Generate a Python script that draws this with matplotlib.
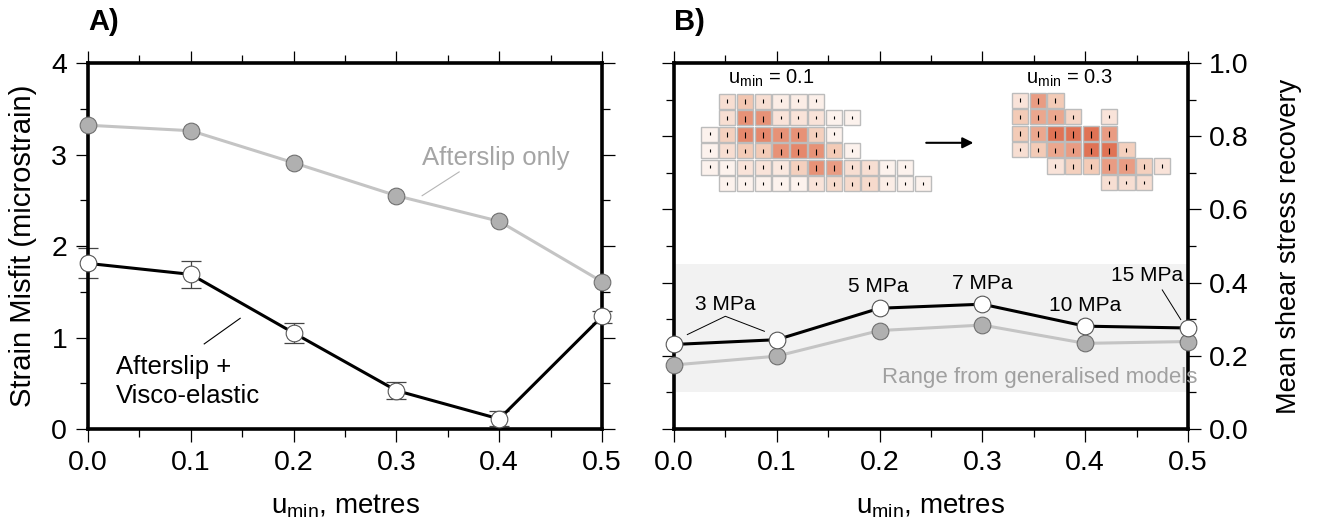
import numpy as np
import matplotlib.pyplot as plt
from matplotlib.colors import LinearSegmentedColormap
from matplotlib.patches import Rectangle
from matplotlib.ticker import MultipleLocator, FormatStrFormatter

plt.rcParams['font.family'] = ['Liberation Sans', 'DejaVu Sans']
plt.rcParams['mathtext.fontset'] = 'custom'
plt.rcParams['mathtext.rm'] = 'Liberation Sans'
plt.rcParams['mathtext.it'] = 'Liberation Sans:italic'

# data
u_min = [0.0, 0.1, 0.2, 0.3, 0.4, 0.5]
misfit_afterslip = [3.32, 3.26, 2.91, 2.55, 2.27, 1.61]
misfit_visco = [1.81, 1.69, 1.05, 0.42, 0.11, 1.23]
misfit_visco_lo = [1.65, 1.54, 0.94, 0.33, 0.03, 1.16]
misfit_visco_hi = [1.98, 1.84, 1.16, 0.51, 0.20, 1.29]

stress_visco = [0.231, 0.244, 0.330, 0.341, 0.281, 0.276]
stress_afterslip = [0.175, 0.199, 0.269, 0.284, 0.234, 0.239]
range_lo, range_hi = 0.10, 0.45

# slip patches (relative intensity, nan = no patch), rows top to bottom
n = np.nan
slip_01 = [
    [n, .25, .5, .25, .1, .1, .08, n, n, n, n, n, n],
    [n, .25, .75, .75, .2, .2, .2, .05, .05, n, n, n, n],
    [.05, .4, .8, .8, .75, .75, .4, .05, n, n, n, n, n],
    [.05, .25, .45, .45, .75, .8, .75, .45, .05, n, n, n, n],
    [.05, .05, .2, .2, .15, .4, .75, .7, .25, .25, .05, .05, n],
    [n, .05, .05, .05, .05, .05, .2, .3, .3, .3, .1, .05, .05],
]
slip_03 = [
    [.2, .7, .45, n, n, n, n, n, n],
    [.45, .65, .65, .35, n, .2, n, n, n],
    [.45, .65, .9, .9, .9, .7, n, n, n],
    [.25, .45, .65, .7, .9, .9, .4, n, n],
    [n, n, .2, .4, .45, .7, .7, .4, .2],
    [n, n, n, n, n, .25, .25, .25, n],
]

fig = plt.figure(figsize=(13.22, 5.26), dpi=100)
ax1 = fig.add_axes([0.0666, 0.1844, 0.3888, 0.6958])
ax2 = fig.add_axes([0.5098, 0.1844, 0.3888, 0.6958])

for ax in (ax1, ax2):
    ax.set_xlim(0, 0.5)
    ax.xaxis.set_major_locator(MultipleLocator(0.1))
    ax.xaxis.set_minor_locator(MultipleLocator(0.05))
    ax.xaxis.set_major_formatter(FormatStrFormatter('%.1f'))
    ax.tick_params(which='both', direction='out', top=True, right=True,
                   width=0.9, labelsize=20.5, pad=6)
    ax.tick_params(which='major', length=9)
    ax.tick_params(which='minor', length=5.5)
    for s in ax.spines.values():
        s.set_linewidth(2.6)
    ax.set_xlabel('u$_{\\mathrm{min}}$, metres', fontsize=20, labelpad=12)

# panel A
ax1.set_ylim(0, 4)
ax1.yaxis.set_major_locator(MultipleLocator(1))
ax1.yaxis.set_minor_locator(MultipleLocator(0.5))
ax1.set_ylabel('Strain Misfit (microstrain)', fontsize=21, labelpad=10)

err = [np.array(misfit_visco) - np.array(misfit_visco_lo),
       np.array(misfit_visco_hi) - np.array(misfit_visco)]
ax1.errorbar(u_min, misfit_visco, yerr=err, fmt='none', ecolor='#444444',
             elinewidth=0.9, capsize=7, capthick=0.9, zorder=2, clip_on=False)
ax1.plot(u_min, misfit_afterslip, color='#c4c4c4', lw=2.2, marker='o', ms=12,
         mfc='#b0b0b0', mec='#707070', mew=0.8, clip_on=False, zorder=3)
ax1.plot(u_min, misfit_visco, color='black', lw=2.2, marker='o', ms=12,
         mfc='white', mec='#555555', mew=0.8, clip_on=False, zorder=4)

ax1.text(0.397, 2.96, 'Afterslip only', color='#a5a5a5', ha='center',
         va='center', fontsize=18.5)
ax1.plot([0.361, 0.325], [2.81, 2.55], color='#b5b5b5', lw=0.8)
ax1.text(0.027, 0.52, 'Afterslip +\nVisco-elastic', ha='left', va='center',
         fontsize=18.5, linespacing=1.25)
ax1.plot([0.148, 0.113], [1.21, 0.93], color='black', lw=0.8)

# panel B
ax2.set_ylim(0, 1)
ax2.yaxis.set_major_locator(MultipleLocator(0.2))
ax2.yaxis.set_minor_locator(MultipleLocator(0.1))
ax2.yaxis.set_major_formatter(FormatStrFormatter('%.1f'))
ax2.tick_params(labelleft=False, labelright=True)
ax2.yaxis.set_label_position('right')
ax2.set_ylabel('Mean shear stress recovery', fontsize=19.5, labelpad=20)

ax2.fill_between([0, 0.5], range_lo, range_hi, color='#f2f2f2', lw=0, zorder=0)
ax2.text(0.356, 0.14, 'Range from generalised models', color='#a0a0a0',
         ha='center', va='center', fontsize=16)
ax2.plot(u_min, stress_afterslip, color='#c4c4c4', lw=2.2, marker='o', ms=12,
         mfc='#b0b0b0', mec='#707070', mew=0.8, clip_on=False, zorder=3)
ax2.plot(u_min, stress_visco, color='black', lw=2.2, marker='o', ms=12,
         mfc='white', mec='#555555', mew=0.8, clip_on=False, zorder=4)

ax2.text(0.05, 0.34, '3 MPa', ha='center', va='center', fontsize=15)
ax2.plot([0.013, 0.05, 0.088], [0.258, 0.308, 0.267], color='black', lw=0.7)
ax2.text(0.199, 0.389, '5 MPa', ha='center', va='center', fontsize=15)
ax2.text(0.300, 0.398, '7 MPa', ha='center', va='center', fontsize=15)
ax2.text(0.400, 0.337, '10 MPa', ha='center', va='center', fontsize=15)
ax2.text(0.460, 0.420, '15 MPa', ha='center', va='center', fontsize=15)
ax2.plot([0.475, 0.493], [0.38, 0.299], color='black', lw=0.7)

cmap = LinearSegmentedColormap.from_list('slip', ['#fdf7f3', '#f2c6b1', '#dc5f3e'])


def draw_patches(ax, grid, x0, y_top, dx, dy):
    for r, row in enumerate(grid):
        for c, v in enumerate(row):
            if np.isnan(v):
                continue
            x = x0 + c * dx
            y = y_top - (r + 1) * dy
            ax.add_patch(Rectangle((x + 0.04 * dx, y + 0.04 * dy), 0.92 * dx, 0.92 * dy,
                                   facecolor=cmap(v), edgecolor='#bcbcbc', lw=1.0, zorder=2))
            cx, cy = x + dx / 2, y + dy / 2
            ax.plot([cx, cx], [cy + 0.12 * dy, cy - (0.05 + 0.25 * v) * dy],
                    color='black', lw=0.8, zorder=3, solid_capstyle='butt')


draw_patches(ax2, slip_01, 0.026, 0.918, 0.01728, 0.0450)
draw_patches(ax2, slip_03, 0.3279, 0.921, 0.01728, 0.0450)
ax2.text(0.0949, 0.959, 'u$_{\\mathrm{min}}$ = 0.1', ha='center', va='center', fontsize=14.5)
ax2.text(0.385, 0.959, 'u$_{\\mathrm{min}}$ = 0.3', ha='center', va='center', fontsize=14.5)
ax2.annotate('', xy=(0.294, 0.782), xytext=(0.2427, 0.782),
             arrowprops=dict(arrowstyle='-|>', color='black', lw=1.5, mutation_scale=16))

fig.text(88 / 1322, 1 - 22 / 526, 'A)', fontsize=21, fontweight='bold', va='center')
fig.text(674 / 1322, 1 - 22 / 526, 'B)', fontsize=21, fontweight='bold', va='center')

fig.savefig('out.png', dpi=100)
